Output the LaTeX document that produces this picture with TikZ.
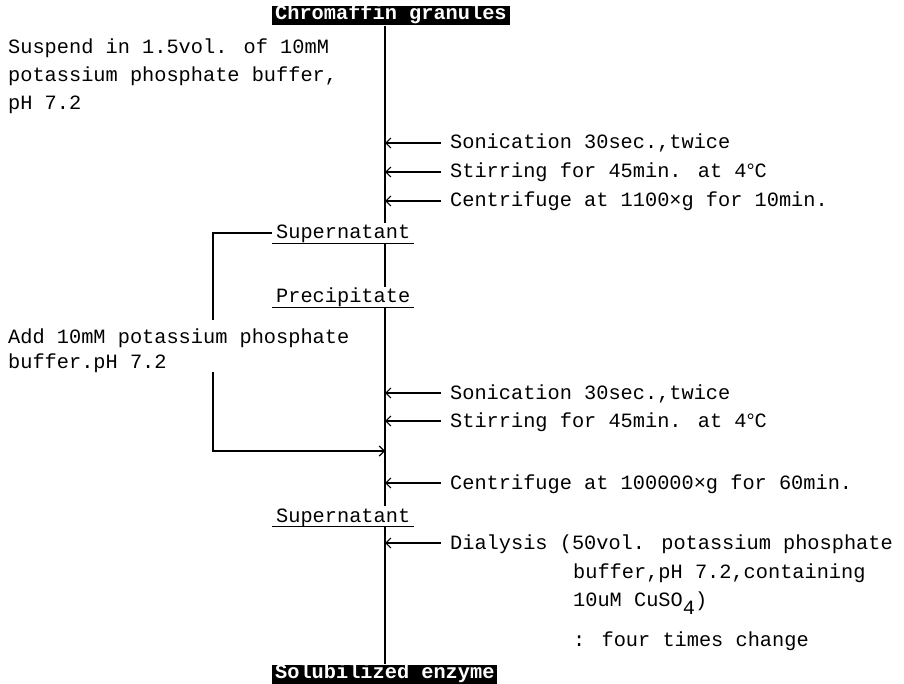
\documentclass[tikz,border=0pt]{standalone}
\usepackage{fontspec}
\setmainfont{Liberation Mono}
\usetikzlibrary{arrows.meta,calc}
\begin{document}
\begin{tikzpicture}[x=1pt,y=-1pt,
  every node/.style={font=\fontsize{20.3}{24}\selectfont, inner sep=0pt},
  ln/.style={line width=1.2pt},
  barb/.style={ln,-{Straight Barb[length=5pt,width=10pt,line width=1.2pt]}},
  lbl/.style={anchor=base west, text height=12pt, text depth=0pt},
  act/.style={anchor=west, inner xsep=9pt, text height=12pt, text depth=0pt},
  frac/.style={anchor=base west, inner xsep=4pt, inner ysep=4pt, text height=12pt, text depth=0pt},
  endbox/.style={anchor=west, fill=black, text=white, font=\fontsize{20.3}{24}\selectfont\bfseries,
    inner xsep=3pt, inner ysep=0.5pt, text height=13pt, text depth=5pt}]
\useasboundingbox (0,0) rectangle (904,684);
\coordinate (m) at (385,0);
\node[endbox] (top) at (272,16) {Chromaffin granules};
\node[lbl] (s1) at (8,54) {Suspend in 1.5vol. of 10mM};
\node[lbl] (s2) at (8,82) {potassium phosphate buffer,};
\node[lbl] (s3) at (8,110) {pH 7.2};
\node[act] (a1) at (441,143) {Sonication 30sec.,twice};
\node[act] (a2) at (441,172) {Stirring for 45min. at 4\makebox[8pt]{°}C};
\node[act] (a3) at (441,201) {Centrifuge at 1100×g for 10min.};
\node[frac] (sup1) at (272,239) {Supernatant};
\node[frac] (pre) at (272,303) {Precipitate};
\node[lbl] (add1) at (8,343) {Add 10mM potassium phosphate};
\node[lbl] (add2) at (8,368) {buffer.pH 7.2};
\node[act] (b1) at (441,393) {Sonication 30sec.,twice};
\node[act] (b2) at (441,421) {Stirring for 45min. at 4\makebox[8pt]{°}C};
\coordinate (lp) at (213,451);
\node[act] (b3) at (441,483) {Centrifuge at 100000×g for 60min.};
\node[frac] (sup2) at (272,522) {Supernatant};
\node[act] (d0) at (441,543) {Dialysis (50vol. potassium phosphate};
\node[lbl] (d1) at (573,578) {buffer,pH 7.2,containing};
\node[lbl] (d2) at (573,606) {10uM CuSO\raisebox{-8pt}{4})};
\node[lbl] (d3) at (573,646) {: four times change};
\node[endbox] (bot) at (272,674) {Solubilized enzyme};
% main line
\draw[ln] (top.south -| m) -- (sup1.north -| m);
\draw[ln] (sup1.south -| m) -- (pre.north -| m);
\draw[ln] (pre.south -| m) -- (sup2.north -| m);
\draw[ln] (sup2.south -| m) -- (bot.north -| m);
% underlines
\foreach \n in {sup1,pre,sup2} \draw[ln] (\n.south west) -- (\n.south east);
% side arrows
\foreach \n in {a1,a2,a3,b1,b2,b3,d0} \draw[barb] (\n.west) -- (\n.west -| m);
% loop
\draw[ln] (sup1.west) -| ($(add1.north -| lp)+(0,-11)$);
\draw[barb] ($(add2.south -| lp)+(0,4)$) |- (lp -| m);
\end{tikzpicture}
\end{document}
